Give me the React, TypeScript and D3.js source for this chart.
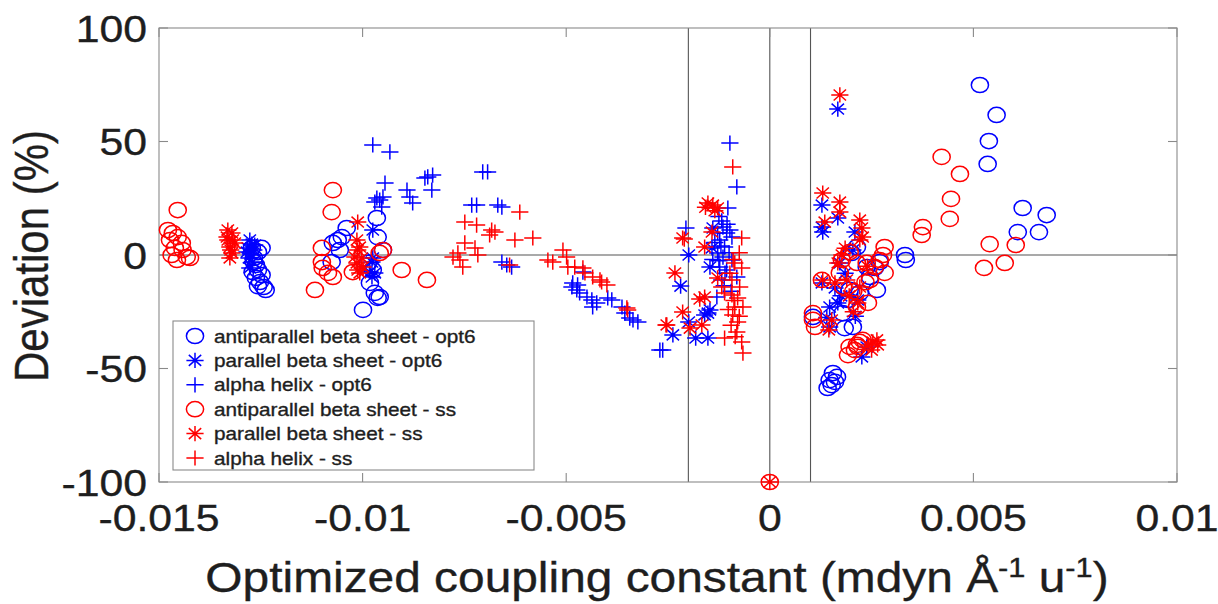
import React from "react";
import * as d3 from "d3";

// ---------- data ----------
const xTicks = [-0.015, -0.01, -0.005, 0, 0.005, 0.01];
const xTickLabels = ["-0.015", "-0.01", "-0.005", "0", "0.005", "0.01"];
const yTicks = [100, 50, 0, -50, -100];
const yTickLabels = ["100", "50", "0", "-50", "-100"];
const refX = [-0.002, 0, 0.001];
const refY = [0];

const legendLabels = [
  "antiparallel beta sheet - opt6",
  "parallel beta sheet - opt6",
  "alpha helix - opt6",
  "antiparallel beta sheet - ss",
  "parallel beta sheet - ss",
  "alpha helix - ss",
];

const antiOpt6: [number, number][] = [
  [-0.01272, 3.1], [-0.01257, 1.3], [-0.01248, 3.1], [-0.01267, -1.3], [-0.01262, -4.4],
  [-0.01257, -6.6], [-0.01248, -8.8], [-0.01252, -11.9], [-0.01243, -14.1], [-0.01238, -15.4],
  [-0.01262, -10.1], [-0.0127, -7.5], [-0.01257, -13.7], [-0.01267, -3.1],
  [-0.01073, 5.3], [-0.01061, 6.6], [-0.01051, 7.9], [-0.01039, 11.9], [-0.01076, -3.1],
  [-0.00965, 16.3], [-0.00963, 7.9], [-0.0095, 2.2], [-0.00987, -3.5], [-0.00975, -6.6],
  [-0.00982, -12.3], [-0.0097, -16.7], [-0.00963, -18.9], [-0.00958, -18.5], [-0.00999, -24.2],
  [-0.01056, 2.2],
  [0.00332, 0], [0.00334, -2.2], [0.00516, 74.9], [0.00557, 61.7], [0.00538, 50.2],
  [0.00535, 40.1], [0.00621, 20.7], [0.0068, 17.6], [0.00609, 10.1], [0.00661, 10.1],
  [0.00155, -52.0], [0.00147, -55.1], [0.00142, -58.6], [0.00165, -53.7], [0.0016, -55.9],
  [0.00152, -57.3],
  [0.00179, -25.6], [0.00204, -31.7], [0.00184, -32.2], [0.00263, -15.4], [0.00258, -5.7],
  [0.00246, -9.7], [0.00106, -27.3], [0.00196, -15.4], [0.00221, -16.7], [0.00201, 0.9],
  [0.00214, 3.5], [0.00238, -5.3], [0.0027, -3.1], [0.00192, -19.8],
];

const parOpt6: [number, number][] = [
  [-0.01277, 6.6], [-0.01272, 4.8], [-0.01282, 3.1], [-0.01267, 2.2], [-0.01275, 0.4],
  [-0.01279, -1.3], [-0.0127, -3.1], [-0.01277, -5.7], [-0.01265, 4.4], [-0.01284, 1.3],
  [-0.00975, 11.0], [-0.00977, -3.1], [-0.00982, -7.5], [-0.0097, -7.9], [-0.00977, -9.7],
  [-0.00975, -1.3],
  [-0.00199, 0], [-0.00219, -13.7], [-0.00147, -5.3], [-0.00152, -25.6], [-0.0016, -26.4],
  [-0.00147, -24.2], [-0.00199, -29.5], [-0.00238, -35.2], [-0.00182, -36.6], [-0.00152, -36.6],
  [-0.0014, 11.9], [-0.00142, 3.1],
  [0.00167, 64.3],
  [0.00128, 22.0], [0.00128, 12.3], [0.0013, 10.1], [0.00167, 16.3], [0.00209, 10.1],
  [0.00128, -12.3], [0.0016, -14.5], [0.00147, -22.9], [0.00167, -21.1], [0.00147, -31.7],
  [0.00226, -44.9], [0.00238, -40.5], [0.00204, 2.2], [0.00172, -3.5], [0.00216, -19.8],
  [0.00185, -8.0], [0.0021, -27.0], [0.00175, -18.0], [0.0014, -27.5],
];

const alphaOpt6: [number, number][] = [
  [-0.00975, 48.5], [-0.00933, 45.4], [-0.00945, 31.7], [-0.00965, 25.1], [-0.00958, 24.2],
  [-0.0097, 23.3], [-0.0095, 25.6], [-0.00953, 21.1], [-0.00891, 28.6], [-0.00884, 25.6],
  [-0.00877, 22.9], [-0.00847, 33.9], [-0.0084, 34.4], [-0.00828, 35.2], [-0.0083, 28.6],
  [-0.00705, 36.6], [-0.00693, 36.6], [-0.00732, 22.0], [-0.0072, 22.0], [-0.00668, 22.0],
  [-0.00658, 21.1], [-0.00658, -3.1], [-0.00646, -4.4], [-0.00634, -5.3],
  [-0.00486, -14.1], [-0.00474, -15.4], [-0.00484, -12.3], [-0.00472, -13.2], [-0.00467, -16.7],
  [-0.00449, -18.5], [-0.00437, -19.8], [-0.00425, -21.1], [-0.00435, -22.9], [-0.00398, -18.9],
  [-0.00388, -19.8], [-0.00363, -22.9], [-0.00356, -25.6], [-0.00344, -27.8], [-0.00336, -28.6],
  [-0.00324, -29.5], [-0.0027, -41.9], [-0.00459, -7.5],
  [-0.00098, 49.3], [-0.00081, 30.0], [-0.00103, 20.7], [-0.00115, 12.3], [-0.00128, 9.7],
  [-0.00106, 9.7], [-0.00093, 7.9], [-0.00123, 6.6], [-0.00111, 3.5], [-0.00128, 0.9],
  [-0.00115, -0.9], [-0.00123, -5.3], [-0.00106, -6.6], [-0.00093, -2.2], [-0.00118, -11.0],
  [-0.0013, -18.5], [-0.00081, -9.7], [-0.00263, -41.9], [-0.00206, 11.9],
  [-0.00118, 15.0], [-0.00105, 13.5], [-0.0012, 4.0], [-0.001, 1.0], [-0.00125, -2.5],
  [-0.0011, -8.0], [-0.00098, 11.0], [-0.00125, 17.0], [-0.00112, -13.5], [-0.00095, -16.0],
  [-0.0014, -2.0], [-0.00135, 5.5],
];

const antiSS: [number, number][] = [
  [-0.01454, 19.8], [-0.01478, 11.0], [-0.01466, 9.7], [-0.01473, 6.6], [-0.01454, 7.9],
  [-0.01444, 5.3], [-0.01461, 3.1], [-0.01442, 2.2], [-0.01469, 0], [-0.01432, -0.9],
  [-0.01456, -2.2], [-0.01424, -1.3],
  [-0.01073, 28.6], [-0.01076, 18.9], [-0.011, 3.1], [-0.011, -3.1], [-0.01098, -5.7],
  [-0.01085, -7.9], [-0.01073, -9.7], [-0.01117, -15.4], [-0.01024, -7.5], [-0.0095, 2.2],
  [-0.00958, 0.9], [-0.00904, -6.6], [-0.00842, -11.0],
  [0.00422, 43.2], [0.00467, 35.7], [0.00445, 24.7], [0.00442, 15.9], [0.00376, 12.3],
  [0.00373, 8.8], [0.0054, 4.8], [0.00604, 4.4], [0.00577, -3.5], [0.00526, -5.7],
  [0.00282, 3.5], [0.00278, 0], [0.0027, -2.2], [0.00282, -7.9], [0.00258, -5.3],
  [0.00246, -11.0], [0.00241, -21.1], [0.00214, -22.9], [0.00128, -11.0], [0.00106, -25.6],
  [0.00106, -28.6], [0.00111, -31.7], [0.00196, -40.5], [0.00192, -44.1], [0.00214, -39.6],
  [0.00221, -38.3], [0.00209, -41.9], [0.00216, -40.5], [0.00228, -37.4], [0.00172, -7.9],
  [0.00177, -2.2], [0.00214, -3.5], [0.00196, 1.3], [0.00238, -3.5],
  [0.0018, -14.0], [0.00205, -16.0], [0.00235, -12.0],
  [0, -100],
];

const parSS: [number, number][] = [
  [-0.01331, 11.0], [-0.01321, 9.7], [-0.01331, 6.6], [-0.01319, 6.6], [-0.01326, 3.5],
  [-0.01321, 0.9], [-0.01326, -1.3], [-0.01333, 7.9], [-0.01314, 5.3], [-0.01324, 2.2],
  [-0.01012, 14.5], [-0.01014, 6.6], [-0.01012, 2.2], [-0.01019, -0.9], [-0.01002, -1.3],
  [-0.01014, -3.5], [-0.00999, -5.3], [-0.01012, -6.6], [-0.01007, 3.5], [-0.01007, -7.9],
  [-0.00214, 7.5], [-0.00233, -7.9], [-0.0016, 3.5], [-0.00172, -19.4], [-0.0016, -18.5],
  [-0.00214, -25.1], [-0.00253, -30.8], [-0.00196, -32.2], [-0.00167, -30.8], [-0.00152, 22.9],
  [-0.0014, 22.0], [-0.00128, 20.7], [-0.00142, 10.1], [-0.00128, -10.1],
  [-0.00158, 21.0], [-0.00135, 19.5],
  [0.00172, 70.5],
  [0.0013, 27.3], [0.00172, 23.3], [0.00172, 18.9], [0.00135, 14.5], [0.00221, 15.4],
  [0.00226, 11.9], [0.00228, 7.9], [0.00221, 6.6], [0.00177, 0], [0.00167, -3.5],
  [0.0013, -11.0], [0.0016, -12.3], [0.00189, -11.0], [0.00152, -28.6], [0.00221, -14.1],
  [0.00216, -21.1], [0.00253, -38.3], [0.00263, -37.4], [0.00241, -39.6], [0.0025, -41.9],
  [0.00265, -39.6],
  [0.00195, -18.0], [0.00205, -25.0], [0.00145, -33.0], [0.00185, 3.0], [0.0024, -5.0],
  [0, -100],
];

const alphaSS: [number, number][] = [
  [-0.00749, 14.5], [-0.0072, 13.2], [-0.00683, 11.0], [-0.00688, 8.8], [-0.00675, 10.1],
  [-0.00626, 6.6], [-0.00582, 7.5], [-0.00614, 18.9], [-0.00749, 5.3], [-0.00724, 3.1],
  [-0.00778, -0.9], [-0.00761, -2.2], [-0.00766, 0.9], [-0.00754, -5.3], [-0.00717, 0],
  [-0.00639, -4.4], [-0.00545, -2.2], [-0.00533, -3.1], [-0.00508, 2.2], [-0.00499, -0.9],
  [-0.00496, -5.3], [-0.00479, -5.3], [-0.00459, -5.7], [-0.00435, -9.7], [-0.00413, -11.9],
  [-0.004, -13.2], [-0.00351, -23.3], [-0.00349, -24.2], [-0.00454, -7.9], [-0.00417, -11.0],
  [-0.00091, 38.8], [-0.00069, 7.5], [-0.00086, -3.5], [-0.00069, -5.7], [-0.00093, -11.0],
  [-0.00074, -14.1], [-0.00093, -17.6], [-0.00079, -18.9], [-0.00086, -22.9], [-0.00066, -22.9],
  [-0.00091, -26.4], [-0.00079, -29.5], [-0.00081, -33.9], [-0.00111, -36.6], [-0.00069, -38.3],
  [-0.00066, -43.2], [-0.00118, -14.1], [-0.00111, -16.7], [-0.00255, -30.8], [-0.0021, 7.0],
  [-0.00098, -8.0], [-0.00088, -20.0], [-0.00102, -24.0], [-0.00075, -27.0], [-0.00095, -31.0],
  [-0.00085, -36.0], [-0.00075, 1.0], [-0.0009, -2.0],
];

type Shape = "circle" | "star" | "plus";
const BLUE = "#0000ff";
const RED = "#ff0000";
const seriesList: { data: [number, number][]; shape: Shape; color: string }[] = [
  { data: antiOpt6, shape: "circle", color: BLUE },
  { data: parOpt6, shape: "star", color: BLUE },
  { data: alphaOpt6, shape: "plus", color: BLUE },
  { data: antiSS, shape: "circle", color: RED },
  { data: parSS, shape: "star", color: RED },
  { data: alphaSS, shape: "plus", color: RED },
];

// ---------- layout ----------
const W = 1218, H = 604;
const L = 159, R = 1177, T = 28, B = 482;
const SX = 1.14; // horizontal stretch of the original picture
const FONT = "'Liberation Sans', Arial, Helvetica, sans-serif";
const TXT = "#1e1e1e";
const RX = 8.6, RY = 7.6, SW = 1.5;

function Marker({ shape, cx, cy, color }: { shape: Shape; cx: number; cy: number; color: string }) {
  if (shape === "circle")
    return <ellipse cx={cx} cy={cy} rx={RX} ry={RY} fill="none" stroke={color} strokeWidth={SW} />;
  if (shape === "plus")
    return (
      <path d={`M${cx - RX},${cy}H${cx + RX}M${cx},${cy - RY}V${cy + RY}`} stroke={color} strokeWidth={SW} fill="none" />
    );
  const dx = RX * 0.72, dy = RY * 0.72;
  return (
    <g stroke={color} strokeWidth={SW} fill="none">
      <path d={`M${cx - RX},${cy}H${cx + RX}M${cx},${cy - RY}V${cy + RY}M${cx - dx},${cy - dy}L${cx + dx},${cy + dy}M${cx - dx},${cy + dy}L${cx + dx},${cy - dy}`} />
      <circle cx={cx} cy={cy} r={1.5} fill={color} stroke="none" />
    </g>
  );
}

function SText({ x, y, size, anchor, children }: any) {
  return (
    <g transform={`translate(${x},${y}) scale(${SX},1)`}>
      <text x={0} y={0} fontSize={size} textAnchor={anchor} fill={TXT} stroke={TXT} strokeWidth={0.35} fontFamily={FONT}>
        {children}
      </text>
    </g>
  );
}

export default function App() {
  const x = d3.scaleLinear().domain([-0.015, 0.01]).range([L, R]);
  const y = d3.scaleLinear().domain([-100, 100]).range([B, T]);
  const tk = 9;
  const legX = 173, legY = 321, legW = 361, legH = 149, rowH = 24.4;

  return (
    <svg width={W} height={H} style={{ position: "absolute", left: 0, top: 0, background: "#fff" }}>
      <rect x={0} y={0} width={W} height={H} fill="#fff" />
      {/* reference lines */}
      {refX.map((v, i) => (
        <line key={"rx" + i} x1={x(v)} x2={x(v)} y1={T} y2={B} stroke="#555" strokeWidth={1.1} />
      ))}
      {refY.map((v, i) => (
        <line key={"ry" + i} x1={L} x2={R} y1={y(v)} y2={y(v)} stroke="#555" strokeWidth={1.1} />
      ))}
      {/* frame */}
      <rect x={L} y={T} width={R - L} height={B - T} fill="none" stroke="#8a8a8a" strokeWidth={1.1} />
      {xTicks.map((v, i) => (
        <g key={"xt" + i}>
          <line x1={x(v)} x2={x(v)} y1={B} y2={B - tk} stroke="#8a8a8a" strokeWidth={1.1} />
          <line x1={x(v)} x2={x(v)} y1={T} y2={T + tk} stroke="#8a8a8a" strokeWidth={1.1} />
          <SText x={x(v)} y={531} size={37.5} anchor="middle">{xTickLabels[i]}</SText>
        </g>
      ))}
      {yTicks.map((v, i) => (
        <g key={"yt" + i}>
          <line x1={L} x2={L + tk} y1={y(v)} y2={y(v)} stroke="#8a8a8a" strokeWidth={1.1} />
          <line x1={R} x2={R - tk} y1={y(v)} y2={y(v)} stroke="#8a8a8a" strokeWidth={1.1} />
          <SText x={147} y={y(v) + 13.5} size={37.5} anchor="end">{yTickLabels[i]}</SText>
        </g>
      ))}
      {/* axis labels */}
      <SText x={657} y={592} size={42} anchor="middle">
        Optimized coupling constant (mdyn Å<tspan dy={-15} fontSize={27}>-1</tspan>
        <tspan dy={15}> u</tspan>
        <tspan dy={-15} fontSize={27}>-1</tspan>
        <tspan dy={15}>)</tspan>
      </SText>
      <g transform={`translate(48,256) scale(${SX},1) rotate(-90)`}>
        <text x={0} y={0} fontSize={42} textAnchor="middle" fill={TXT} stroke={TXT} strokeWidth={0.35} fontFamily={FONT}>Deviation (%)</text>
      </g>
      {/* points */}
      {seriesList.map((s, si) => (
        <g key={"s" + si}>
          {s.data.map((p, pi) => (
            <Marker key={pi} shape={s.shape} cx={x(p[0])} cy={y(p[1])} color={s.color} />
          ))}
        </g>
      ))}
      {/* legend */}
      <rect x={legX} y={legY} width={legW} height={legH} fill="#fff" stroke="#8a8a8a" strokeWidth={1.1} />
      {seriesList.map((s, i) => {
        const cy = legY + 15 + i * rowH;
        return (
          <g key={"lg" + i}>
            <Marker shape={s.shape} cx={195} cy={cy} color={s.color} />
            <SText x={214} y={cy + 6.5} size={18.2} anchor="start">{legendLabels[i]}</SText>
          </g>
        );
      })}
    </svg>
  );
}
